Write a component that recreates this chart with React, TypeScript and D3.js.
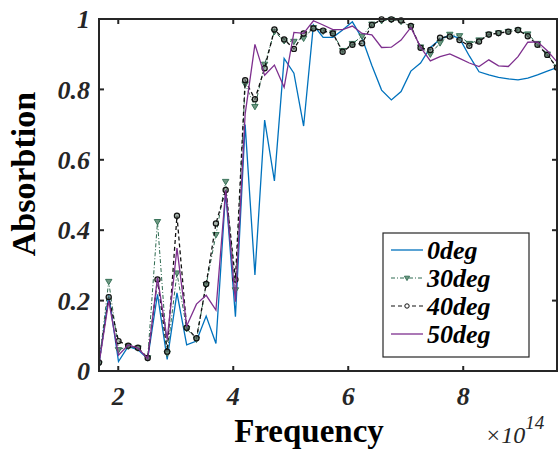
import React from "react";
import * as d3 from "d3";

const freq = [1.665, 1.834, 2.004, 2.173, 2.343, 2.512, 2.682, 2.851, 3.021, 3.19, 3.36, 3.529, 3.699, 3.868, 4.038, 4.207, 4.377, 4.546, 4.716, 4.885, 5.055, 5.224, 5.394, 5.563, 5.733, 5.902, 6.072, 6.241, 6.411, 6.58, 6.75, 6.919, 7.089, 7.258, 7.428, 7.597, 7.767, 7.936, 8.106, 8.275, 8.445, 8.614, 8.784, 8.953, 9.123, 9.292, 9.462, 9.631];

const deg0 = [0.02, 0.216, 0.027, 0.07, 0.06, 0.035, 0.218, 0.033, 0.222, 0.074, 0.085, 0.156, 0.078, 0.51, 0.154, 0.7, 0.273, 0.713, 0.54, 0.888, 0.846, 0.696, 0.983, 0.948, 0.948, 0.969, 0.992, 0.945, 0.868, 0.798, 0.77, 0.794, 0.852, 0.875, 0.919, 0.942, 0.955, 0.945, 0.895, 0.85, 0.841, 0.834, 0.83, 0.827, 0.832, 0.841, 0.852, 0.862];

const deg30 = [0.02, 0.254, 0.06, 0.07, 0.065, 0.037, 0.424, 0.05, 0.278, 0.12, 0.09, 0.245, 0.387, 0.538, 0.23, 0.815, 0.751, 0.871, 0.964, 0.938, 0.936, 0.945, 0.975, 0.965, 0.96, 0.91, 0.93, 0.951, 0.985, 0.995, 0.998, 0.993, 0.978, 0.92, 0.9, 0.932, 0.956, 0.952, 0.93, 0.94, 0.956, 0.96, 0.964, 0.968, 0.957, 0.93, 0.9, 0.862];

const deg40 = [0.024, 0.21, 0.085, 0.072, 0.066, 0.037, 0.26, 0.055, 0.441, 0.123, 0.093, 0.247, 0.419, 0.514, 0.26, 0.826, 0.772, 0.86, 0.97, 0.942, 0.915, 0.959, 0.973, 0.967, 0.959, 0.907, 0.927, 0.931, 0.983, 0.999, 0.999, 0.996, 0.98, 0.918, 0.912, 0.947, 0.95, 0.94, 0.924, 0.936, 0.956, 0.96, 0.964, 0.969, 0.951, 0.927, 0.898, 0.862];

const deg50 = [0.02, 0.2, 0.045, 0.074, 0.065, 0.035, 0.265, 0.09, 0.349, 0.128, 0.19, 0.215, 0.173, 0.514, 0.197, 0.73, 0.928, 0.84, 0.869, 0.806, 0.962, 0.959, 0.995, 0.983, 0.97, 0.97, 0.98, 0.959, 0.955, 0.919, 0.92, 0.94, 0.976, 0.92, 0.881, 0.893, 0.901, 0.888, 0.875, 0.865, 0.884, 0.867, 0.865, 0.893, 0.934, 0.935, 0.91, 0.878];

const xTicks = [2, 4, 6, 8];
const yTicks = [0, 0.2, 0.4, 0.6, 0.8, 1];
const yTickLabels = ["0", "0.2", "0.4", "0.6", "0.8", "1"];
const legendLabels = ["0deg", "30deg", "40deg", "50deg"];

const C0 = "#0072BD";
const C30 = "#2E6B50";
const C40 = "#111111";
const C50 = "#7E2F8E";
const AX = "#262626";
const FONT = "'Liberation Serif', 'Times New Roman', serif";

export default function App() {
  const L = 99, R = 557, T = 19, B = 371;
  const x = d3.scaleLinear().domain([1.665, 9.631]).range([L, R]);
  const y = d3.scaleLinear().domain([0, 1]).range([B, T]);
  const line = (vals: number[]) =>
    d3.line<number>().x((_, i) => x(freq[i])).y((v) => y(v))(vals) || "";

  const tri = (cx: number, cy: number, s = 3.2) =>
    `M${cx - s},${cy - s * 0.7}L${cx + s},${cy - s * 0.7}L${cx},${cy + s * 1.0}Z`;

  const legX = 383, legY = 233, legW = 146, legH = 124;
  const rowY = [250, 278, 306, 334];

  return (
    <svg width={560} height={450} style={{ display: "block", position: "absolute", left: 0, top: 0, background: "#fff" }}>
      <rect x={0} y={0} width={560} height={450} fill="#fff" />
      <defs>
        <clipPath id="plot">
          <rect x={L} y={T - 3} width={R - L} height={B - T + 6} />
        </clipPath>
      </defs>
      <g clipPath="url(#plot)">
        <path d={line(deg0)} fill="none" stroke={C0} strokeWidth={1.3} />
        <path d={line(deg30)} fill="none" stroke={C30} strokeWidth={1} strokeDasharray="4,2,1,2" />
        {deg30.map((v, i) => (
          <path key={"t" + i} d={tri(x(freq[i]), y(v))} fill="#6f9882" stroke={C30} strokeWidth={0.9} />
        ))}
        <path d={line(deg40)} fill="none" stroke={C40} strokeWidth={1.3} strokeDasharray="4,3" />
        {deg40.map((v, i) => (
          <circle key={"c" + i} cx={x(freq[i])} cy={y(v)} r={2.6} fill="#6f8478" fillOpacity={0.6} stroke={C40} strokeWidth={1.2} />
        ))}
        <path d={line(deg50)} fill="none" stroke={C50} strokeWidth={1.3} />
      </g>

      {/* axes box */}
      <rect x={L} y={T} width={R - L} height={B - T} fill="none" stroke={AX} strokeWidth={2} />
      {xTicks.map((t) => (
        <g key={"xt" + t}>
          <line x1={x(t)} x2={x(t)} y1={B} y2={B - 5} stroke={AX} strokeWidth={2} />
          <line x1={x(t)} x2={x(t)} y1={T} y2={T + 5} stroke={AX} strokeWidth={2} />
          <text x={x(t)} y={405} textAnchor="middle" fontFamily={FONT} fontWeight="bold" fontStyle="italic" fontSize={26} fill={AX}>
            {t}
          </text>
        </g>
      ))}
      {yTicks.map((t, i) => (
        <g key={"yt" + t}>
          <line x1={L} x2={L + 5} y1={y(t)} y2={y(t)} stroke={AX} strokeWidth={2} />
          <line x1={R} x2={R - 5} y1={y(t)} y2={y(t)} stroke={AX} strokeWidth={2} />
          <text x={90} y={y(t)} dy="0.35em" textAnchor="end" fontFamily={FONT} fontWeight="bold" fontStyle="italic" fontSize={26} fill={AX}>
            {yTickLabels[i]}
          </text>
        </g>
      ))}

      {/* titles */}
      <text x={309} y={442} textAnchor="middle" fontFamily={FONT} fontWeight="bold" fontSize={33} fill="#000">
        Frequency
      </text>
      <text transform={`translate(35,174) rotate(-90)`} textAnchor="middle" fontFamily={FONT} fontWeight="bold" fontSize={34} fill="#000">
        Absorbtion
      </text>
      <text x={485} y={443} fontFamily={FONT} fontStyle="italic" fontSize={24} fill={AX}>
        ×10
        <tspan dy={-14} fontSize={19}>14</tspan>
      </text>

      {/* legend */}
      <rect x={legX} y={legY} width={legW} height={legH} fill="#fff" stroke={AX} strokeWidth={1.2} />
      {legendLabels.map((lab, i) => {
        const yy = rowY[i];
        const x1 = 391, x2 = 423, xm = 407;
        return (
          <g key={lab}>
            {i === 0 && <line x1={x1} x2={x2} y1={yy} y2={yy} stroke={C0} strokeWidth={1.3} />}
            {i === 1 && (
              <>
                <line x1={x1} x2={x2} y1={yy} y2={yy} stroke={C30} strokeWidth={1} strokeDasharray="4,2,1,2" />
                <path d={tri(xm, yy, 2.6)} fill="#6f9882" stroke={C30} strokeWidth={0.9} />
              </>
            )}
            {i === 2 && (
              <>
                <line x1={x1} x2={x2} y1={yy} y2={yy} stroke={C40} strokeWidth={1.2} strokeDasharray="4,3" />
                <circle cx={xm} cy={yy} r={2.2} fill="#fff" stroke={C40} strokeWidth={1} />
              </>
            )}
            {i === 3 && <line x1={x1} x2={x2} y1={yy} y2={yy} stroke={C50} strokeWidth={1.3} />}
            <text x={427} y={yy} dy="0.33em" fontFamily={FONT} fontWeight="bold" fontStyle="italic" fontSize={26} fill="#000">
              {lab}
            </text>
          </g>
        );
      })}
    </svg>
  );
}
